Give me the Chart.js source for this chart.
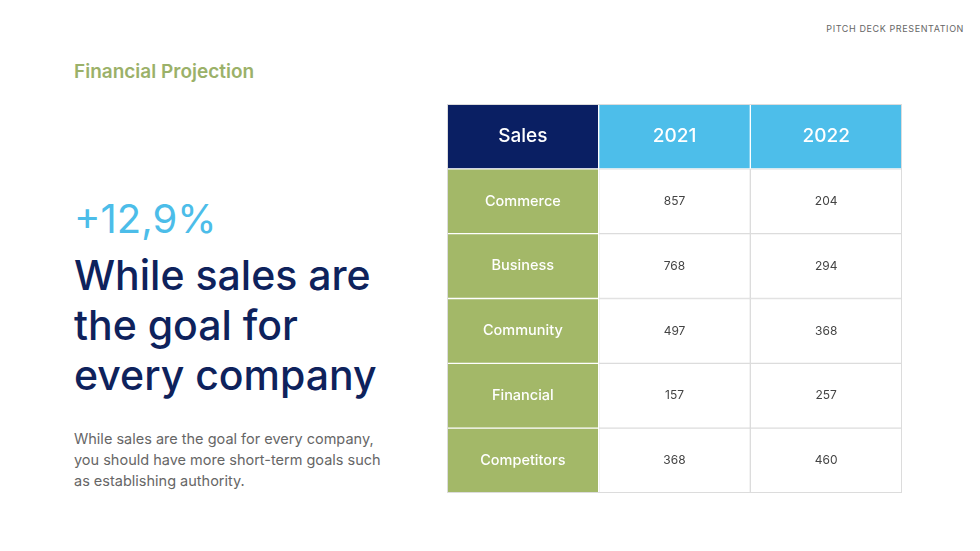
<!DOCTYPE html>
<html><head><meta charset="utf-8">
<script src="https://cdn.jsdelivr.net/npm/chart.js@4"></script>
<style>
body{margin:0;width:980px;height:551px;background:#fff;font-family:Inter,"Noto Sans",sans-serif;position:relative;overflow:hidden}
.tag{position:absolute;right:16px;top:23px;font-size:9px;letter-spacing:.6px;color:#666}
.ttl{position:absolute;left:74px;top:60px;font-size:19px;font-weight:600;color:#9bb169}
.pct{position:absolute;left:74px;top:194px;font-size:40px;color:#4cbde9}
.big{position:absolute;left:74px;top:250px;font-size:41px;line-height:50px;color:#0e225c;font-weight:500}
.par{position:absolute;left:74px;top:428px;font-size:14.5px;line-height:21px;color:#666}
#wrap{position:absolute;left:447px;top:104px;width:455px;height:389px}
</style></head><body>
<div class="tag">PITCH DECK PRESENTATION</div>
<div class="ttl">Financial Projection</div>
<div class="pct">+12,9%</div>
<div class="big">While sales are<br>the goal for<br>every company</div>
<div class="par">While sales are the goal for every company,<br>you should have more short-term goals such<br>as establishing authority.</div>
<div id="wrap"><canvas id="tbl" width="455" height="389"></canvas></div>
<script>
// Datos de la tabla
const columnas = ['Sales', '2021', '2022'];
const categorias = ['Commerce', 'Business', 'Community', 'Financial', 'Competitors'];
const ventas2021 = [857, 768, 497, 157, 368];
const ventas2022 = [204, 294, 368, 257, 460];

const filas = ['header'].concat(categorias);
const colTextos = [
  ['Sales'].concat(categorias),
  ['2021'].concat(ventas2021.map(String)),
  ['2022'].concat(ventas2022.map(String))
];
const fondo = (c, r) => r === 0 ? (c === 0 ? '#0a1f63' : '#4dbeea') : (c === 0 ? '#a3b868' : '#ffffff');
const borde = (c, r) => (r === 0 || c === 0) ? '#ffffff' : '#dcdcdc';

const datasets = columnas.map((_, c) => ({
  data: filas.map(() => [c, c + 1]),
  backgroundColor: filas.map((_, r) => fondo(c, r)),
  borderColor: filas.map((_, r) => borde(c, r)),
  borderWidth: 1,
  borderSkipped: false,
  barPercentage: 1,
  categoryPercentage: 1,
  grouped: false
}));

// Plugin para escribir el texto de cada celda
const textoCeldas = {
  id: 'textoCeldas',
  afterDatasetsDraw(chart) {
    const ctx = chart.ctx;
    ctx.save();
    ctx.textAlign = 'center';
    ctx.textBaseline = 'middle';
    chart.data.datasets.forEach((ds, c) => {
      chart.getDatasetMeta(c).data.forEach((bar, r) => {
        const cx = (bar.x + bar.base) / 2;
        if (r === 0) { ctx.font = '500 19px Inter'; ctx.fillStyle = '#fff'; }
        else if (c === 0) { ctx.font = '500 14.5px Inter'; ctx.fillStyle = '#fff'; }
        else { ctx.font = '12px Inter'; ctx.fillStyle = '#444'; }
        ctx.fillText(colTextos[c][r], cx, bar.y);
      });
    });
    const a = chart.chartArea;
    ctx.strokeStyle = '#dcdcdc';
    ctx.lineWidth = 1;
    ctx.strokeRect(a.left + 0.5, a.top + 0.5, a.width - 1, a.height - 1);
    ctx.restore();
  }
};

new Chart(document.getElementById('tbl'), {
  type: 'bar',
  data: { labels: filas, datasets: datasets },
  options: {
    indexAxis: 'y',
    responsive: false,
    animation: false,
    layout: { padding: 0 },
    plugins: { legend: { display: false }, tooltip: { enabled: false } },
    scales: {
      x: { type: 'linear', min: 0, max: 3, display: false },
      y: { display: false }
    }
  },
  plugins: [textoCeldas]
});
</script>
</body></html>
